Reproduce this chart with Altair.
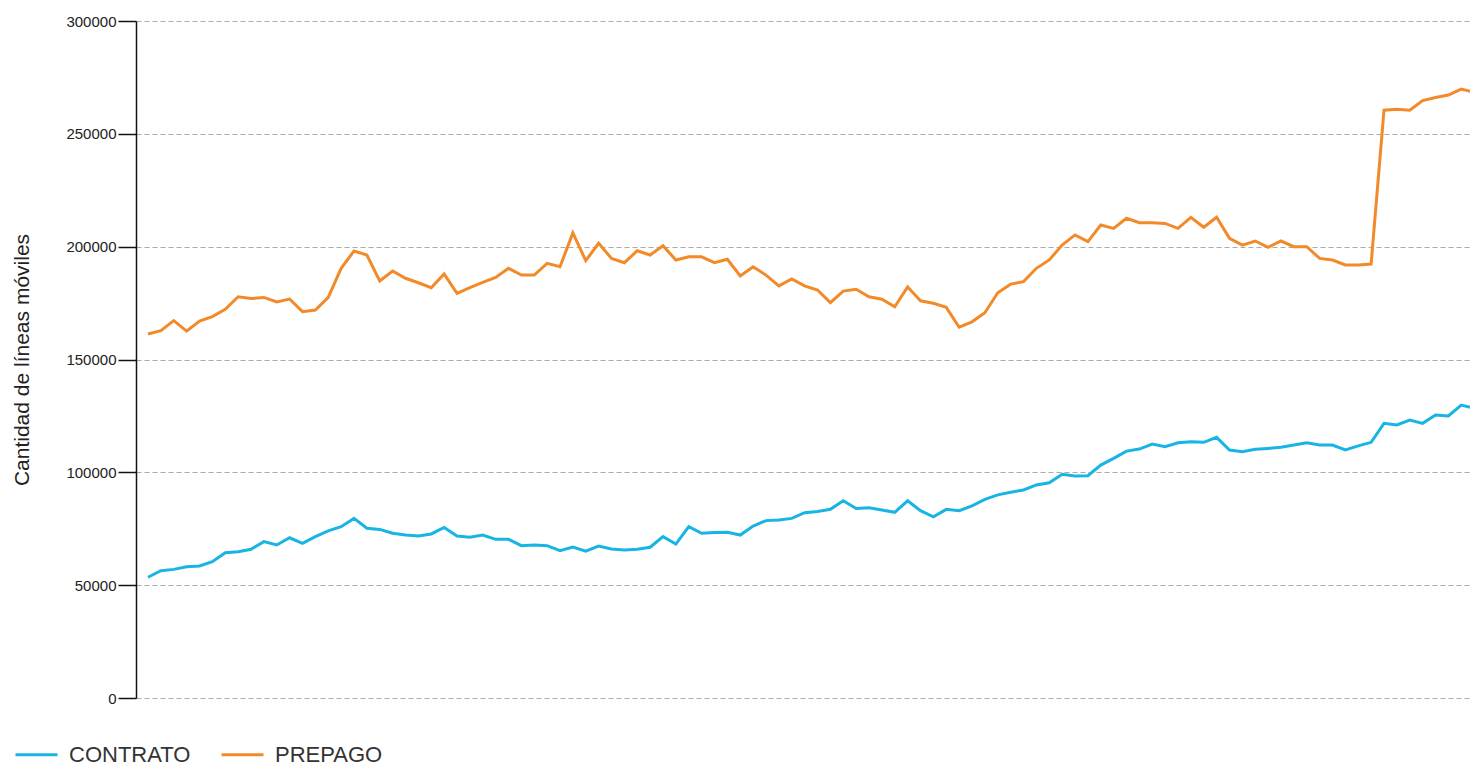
import altair as alt
import pandas as pd

series_names = ["CONTRATO", "PREPAGO"]
series_colors = ["#18b4e4", "#f28a2a"]

contrato = [
    53500, 56400, 57000, 58200, 58500, 60400, 64400, 64800, 65900, 69300,
    67800, 71000, 68500, 71500, 74100, 75900, 79600, 75200, 74700, 73000,
    72200, 71800, 72700, 75600, 71800, 71200, 72200, 70300, 70300, 67500,
    67800, 67500, 65300, 66900, 65100, 67300, 66000, 65600, 65900, 66800,
    71500, 68200, 75900, 73000, 73300, 73400, 72200, 76200, 78600, 78900,
    79600, 82100, 82600, 83600, 87400, 84000, 84300, 83300, 82300, 87400,
    83000, 80300, 83600, 83000, 85100, 88000, 90000, 91200, 92200, 94400,
    95400, 99100, 98400, 98500, 103200, 106200, 109400, 110300, 112500, 111400,
    113100, 113600, 113300, 115500, 109900, 109100, 110200, 110600, 111100, 112100,
    113100, 112100, 112100, 109900, 111700, 113300, 121700, 121000, 123200, 121700,
    125400, 125000, 129800, 128400,
]

prepago = [
    161300, 162800, 167200, 162600, 167000, 169000, 172200, 177800, 177000, 177500,
    175500, 176800, 171200, 171900, 177500, 190400, 198100, 196300, 184800, 189200,
    186000, 184000, 181800, 187900, 179300, 181800, 184200, 186400, 190400, 187400,
    187400, 192600, 191100, 206100, 193800, 201500, 194800, 192900, 198200, 196300,
    200400, 194100, 195500, 195500, 192900, 194400, 187000, 191100, 187400, 182600,
    185700, 182600, 180800, 175200, 180300, 181100, 177800, 176700, 173400, 182200,
    176000, 174900, 173100, 164300, 166700, 170700, 179600, 183400, 184500, 190400,
    194100, 200700, 205200, 202200, 209600, 208100, 212600, 210600, 210600, 210300,
    208100, 213000, 208600, 213000, 203700, 200700, 202500, 199700, 202500, 200000,
    200000, 194800, 194100, 191900, 191900, 192300, 260500, 260900, 260500, 264700,
    266100, 267200, 269800, 268400,
]

y_ticks = [0, 50000, 100000, 150000, 200000, 250000, 300000]

rows = []
for name, vals in zip(series_names, [contrato, prepago]):
    for i, v in enumerate(vals):
        rows.append({"mes": i, "tipo": name, "lineas": v})
df = pd.DataFrame(rows)

FONT = "Liberation Sans"

chart = (
    alt.Chart(df)
    .mark_line(strokeWidth=3, clip=True)
    .encode(
        x=alt.X("mes:Q", axis=None,
                scale=alt.Scale(domain=[-0.932, 102.68], nice=False, zero=False)),
        y=alt.Y("lineas:Q",
                title="Cantidad de líneas móviles",
                scale=alt.Scale(domain=[0, 300000], nice=False),
                axis=alt.Axis(values=y_ticks, format="d",
                              domainColor="#111", domainWidth=1.5,
                              tickColor="#111", tickWidth=1.5, tickSize=18,
                              labelPadding=2, labelFontSize=15, labelColor="#222",
                              labelFont=FONT,
                              grid=True, gridColor="#aaaaaa", gridDash=[5, 3],
                              gridWidth=1,
                              titleFont=FONT, titleFontSize=21, titleFontWeight="normal",
                              titleColor="#222", titleX=-108, titleY=338.5,
                              titleAngle=-90, titleAlign="center",
                              titleBaseline="alphabetic")),
        color=alt.Color("tipo:N", title=None,
                        scale=alt.Scale(domain=series_names, range=series_colors),
                        legend=alt.Legend(orient="none", legendX=-122, legendY=711,
                                          direction="horizontal", columns=2,
                                          symbolType="stroke", symbolSize=1764,
                                          symbolStrokeWidth=3, labelOffset=10,
                                          columnPadding=24, padding=0,
                                          labelFont=FONT, labelFontSize=22,
                                          labelColor="#333")),
    )
    .properties(
        width=1334, height=677,
        autosize=alt.AutoSizeParams(type="none"),
        padding={"left": 128, "top": 13, "right": 0, "bottom": 66},
    )
    .configure_view(strokeWidth=0)
)

chart.save("out.html", embed_options={"renderer": "svg", "actions": False})
